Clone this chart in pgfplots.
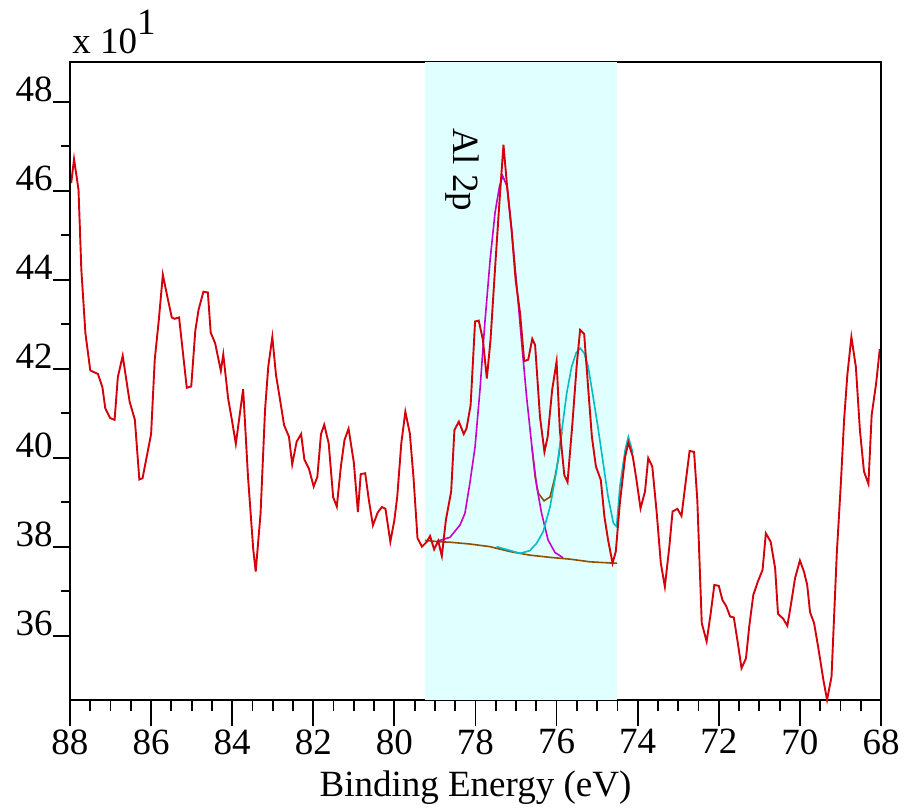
\documentclass[border=0pt]{standalone}
\usepackage{fontspec}
\setmainfont{Liberation Serif}
\usepackage{pgfplots}
\pgfplotsset{compat=1.18}
\definecolor{specred}{RGB}{212,0,10}
\definecolor{compmag}{RGB}{200,0,200}
\definecolor{compcyan}{RGB}{0,190,195}
\definecolor{bgbrown}{RGB}{140,80,0}
\definecolor{regionfill}{RGB}{224,255,255}

\pgfplotsset{xpsframe/.style={
  at={(35pt,54.5pt)}, anchor=south west,
  scale only axis, width=405.5pt, height=319pt,
  xmin=68, xmax=88, x dir=reverse,
  ymin=34.555, ymax=48.89,
  tick align=outside,
  every tick/.style={black, line width=0.9pt},
  axis line style={line width=0.9pt},
  /pgf/number format/assume math mode=true,
}}

\begin{document}
\begin{tikzpicture}[font=\fontsize{18.5}{22}\selectfont]
\useasboundingbox (0,0) rectangle (452pt,404.5pt);
% main axis: data and x ticks
\begin{axis}[
  xpsframe,
  xtick={68,70,...,88}, minor x tick num=3,
  ytick=\empty,
  xtick pos=bottom,
  major tick length=13pt, minor tick length=5.5pt,
  xticklabel style={anchor=north, inner sep=0pt, yshift=-1.5pt},
  xlabel={Binding Energy (eV)},
  xlabel style={at={(axis description cs:0.5,0)}, anchor=base, yshift=-48pt, inner sep=0pt},
  clip=false,
]
% quantified region
\addplot[draw=none, fill=regionfill] coordinates {(79.25,34.555) (79.25,48.89) (74.51,48.89) (74.51,34.555)} -- cycle;

% background
\addplot[bgbrown, line width=0.8pt] coordinates {
(79.25,38.14) (78.88,38.11) (78.63,38.10) (78.14,38.06) (77.64,38.00) (77.15,37.89)
(76.66,37.81) (76.16,37.76) (75.67,37.72) (75.18,37.66) (74.60,37.63) (74.51,37.63)};

% envelope between the components
\addplot[bgbrown, line width=0.8pt] coordinates {
(76.61,40.25) (76.53,39.57) (76.45,39.20) (76.31,39.03) (76.16,39.12) (76.04,39.57) (75.96,39.95) (75.87,40.58)};

% Al 2p component 1
\addplot[compmag, line width=0.8pt] coordinates {
(78.92,38.13) (78.63,38.21) (78.38,38.49) (78.26,38.75) (78.14,39.42) (78.01,40.25)
(77.89,41.52) (77.77,43.02) (77.64,44.44) (77.52,45.49) (77.41,46.09) (77.33,46.33)
(77.22,46.09) (77.11,45.12) (76.98,43.84) (76.86,42.57) (76.74,41.37) (76.61,40.25)
(76.49,39.35) (76.37,38.75) (76.21,38.15) (76.04,37.87) (75.84,37.75)};

% Al 2p component 2
\addplot[compcyan, line width=0.8pt] coordinates {
(77.48,38.00) (76.90,37.85) (76.66,37.91) (76.49,38.08) (76.33,38.34) (76.16,38.90)
(76.00,39.72) (75.87,40.62) (75.75,41.45) (75.63,42.04) (75.52,42.35) (75.42,42.46)
(75.32,42.35) (75.22,42.04) (75.10,41.37) (74.97,40.62) (74.85,39.87) (74.73,39.12)
(74.60,38.53) (74.52,38.45) (74.44,39.35) (74.31,40.17) (74.23,40.47) (74.12,40.11)};

% measured spectrum
\addplot[specred, line width=0.95pt] coordinates {
(87.97,46.17) (87.90,46.71) (87.79,46.02) (87.72,44.22) (87.62,42.80) (87.50,41.96)
(87.31,41.88) (87.20,41.58) (87.13,41.11) (87.01,40.89) (86.90,40.85) (86.82,41.81)
(86.70,42.29) (86.53,41.26) (86.40,40.85) (86.29,39.51) (86.21,39.54) (86.00,40.53)
(85.91,42.20) (85.81,43.09) (85.71,44.11) (85.60,43.62) (85.49,43.15) (85.42,43.12)
(85.31,43.15) (85.12,41.57) (85.01,41.60) (84.91,42.85) (84.83,43.32) (84.71,43.73)
(84.60,43.71) (84.53,42.81) (84.42,42.57) (84.28,41.95) (84.22,42.32) (84.10,41.33)
(84.01,40.86) (83.91,40.31) (83.73,41.54) (83.61,39.57) (83.48,37.93) (83.42,37.44)
(83.30,38.75) (83.19,41.07) (83.11,42.05) (83.01,42.71) (82.92,41.86) (82.82,41.30)
(82.72,40.73) (82.60,40.47) (82.52,39.85) (82.41,40.36) (82.30,40.53) (82.22,39.96)
(82.11,39.76) (81.99,39.35) (81.90,39.57) (81.81,40.53) (81.73,40.74) (81.62,40.32)
(81.51,39.11) (81.42,38.90) (81.32,39.80) (81.23,40.40) (81.13,40.65) (81.00,39.89)
(80.90,38.78) (80.83,39.63) (80.72,39.65) (80.63,39.05) (80.53,38.48) (80.41,38.77)
(80.31,38.89) (80.22,38.85) (80.10,38.11) (80.00,38.60) (79.93,39.12) (79.83,40.32)
(79.73,41.03) (79.62,40.55) (79.53,39.57) (79.43,38.19) (79.32,38.00) (79.20,38.11)
(79.12,38.24) (79.02,37.94) (78.92,38.13) (78.83,37.79) (78.73,38.60) (78.60,39.24)
(78.52,40.62) (78.41,40.81) (78.29,40.53) (78.22,40.66) (78.12,41.18) (78.01,43.06)
(77.92,43.08) (77.82,42.66) (77.72,41.78) (77.63,42.64) (77.52,44.22) (77.40,45.87)
(77.31,47.03) (77.22,46.09) (77.11,45.12) (77.01,43.99) (76.90,43.24) (76.80,42.17)
(76.70,42.20) (76.60,42.67) (76.53,42.53) (76.41,40.92) (76.30,40.13) (76.22,40.47)
(76.11,41.52) (76.00,42.16) (75.92,40.62) (75.81,39.61) (75.73,39.45) (75.61,40.77)
(75.50,42.12) (75.42,42.87) (75.32,42.78) (75.23,41.67) (75.13,40.47) (75.03,39.80)
(74.91,39.50) (74.82,38.67) (74.73,38.15) (74.62,37.63) (74.54,37.89) (74.44,38.98)
(74.31,40.02) (74.23,40.34) (74.12,40.02) (74.03,39.50) (73.93,38.86) (73.82,39.24)
(73.74,39.99) (73.64,39.80) (73.53,38.75) (73.43,37.63) (73.33,37.10) (73.22,38.00)
(73.14,38.79) (73.02,38.85) (72.92,38.69) (72.81,39.50) (72.72,40.15) (72.61,40.13)
(72.53,39.05) (72.42,36.28) (72.30,35.87) (72.20,36.50) (72.11,37.14) (72.00,37.12)
(71.91,36.80) (71.82,36.67) (71.72,36.43) (71.63,36.41) (71.53,35.83) (71.44,35.27)
(71.33,35.49) (71.25,36.20) (71.15,36.91) (71.04,37.21) (70.92,37.48) (70.84,38.30)
(70.72,38.11) (70.61,37.51) (70.54,36.49) (70.41,36.38) (70.31,36.22) (70.23,36.65)
(70.12,37.29) (70.00,37.69) (69.90,37.44) (69.82,37.14) (69.75,36.53) (69.65,36.28)
(69.55,35.75) (69.42,35.00) (69.33,34.56) (69.22,35.08) (69.09,37.85) (68.99,39.42)
(68.91,40.85) (68.83,41.86) (68.73,42.71) (68.62,42.04) (68.52,40.62) (68.42,39.69)
(68.31,39.41) (68.23,40.96) (68.12,41.67) (68.03,42.44)};

\node[rotate=-90, anchor=base west, inner sep=0pt] at (axis cs:78.55,47.41) {Al 2p};
\node[anchor=base west, inner sep=0pt, xshift=1pt, yshift=4pt] at (rel axis cs:0,1)
  {x 10\raisebox{9.5pt}{1}};
\end{axis}
% second axis on the same frame: y ticks with their own lengths
\begin{axis}[
  xpsframe,
  axis x line=none,
  ytick={36,38,...,48}, minor y tick num=1,
  ytick pos=left,
  major tick length=8.5pt, minor tick length=4.5pt,
  yticklabel style={anchor=base east, inner sep=0pt},
]
\end{axis}
\end{tikzpicture}
\end{document}
